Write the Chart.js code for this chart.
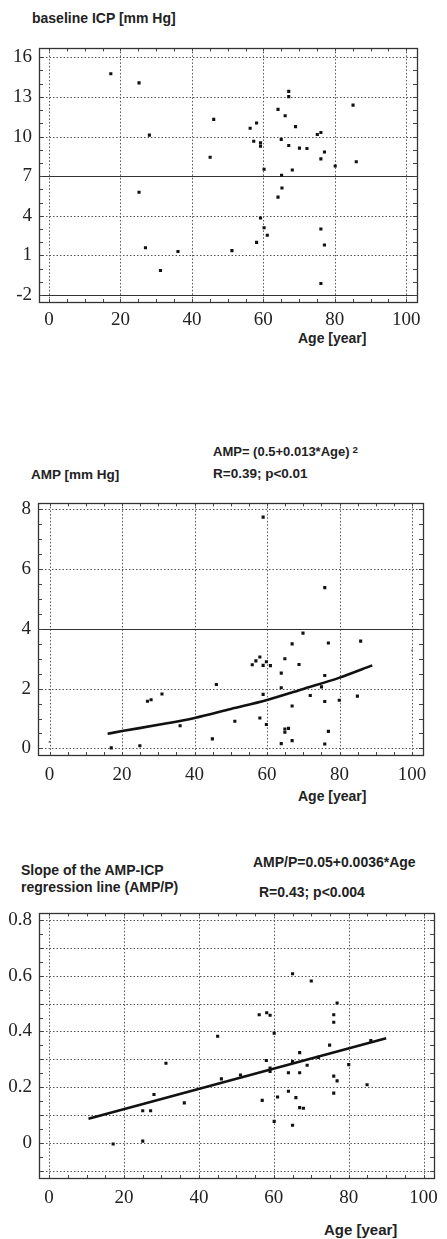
<!DOCTYPE html>
<html lang="en">
<head>
  <meta charset="UTF-8" />
  <title>ICP / AMP vs Age</title>
  <script src="https://cdn.jsdelivr.net/npm/chart.js"></script>
  <style>
    body {
      margin: 0;
      background: #fff;
      width: 447px;
      height: 1239px;
      position: relative;
      overflow: hidden;
    }
    canvas {
      position: absolute;
      left: 0;
    }
    .lbl {
      position: absolute;
      font-family: 'Liberation Sans', Arial, sans-serif;
      font-weight: bold;
      color: #222;
      line-height: 1;
      white-space: nowrap;
    }
    .lbl sup {
      font-size: 0.75em;
      position: relative;
      top: -0.35em;
      vertical-align: baseline;
      margin-left: 3px;
    }
  </style>
</head>
<body>
  <div class="lbl" style="left:32px; top:11px; font-size:14px;">baseline ICP [mm Hg]</div>
  <canvas id="icpChart" width="447" height="300" style="top:30px"></canvas>
  <div class="lbl" style="left:298px; top:331px; font-size:14px;">Age [year]</div>

  <div class="lbl" style="left:213px; top:445px; font-size:13px;">AMP= (0.5+0.013*Age)<sup>2</sup></div>
  <div class="lbl" style="left:31px; top:468px; font-size:13.5px;">AMP [mm Hg]</div>
  <div class="lbl" style="left:213px; top:467px; font-size:13.5px;">R=0.39; p&lt;0.01</div>
  <canvas id="ampChart" width="447" height="300" style="top:485px"></canvas>
  <div class="lbl" style="left:298px; top:789px; font-size:14px;">Age [year]</div>

  <div class="lbl" style="left:21px; top:863px; font-size:14px;">Slope of the AMP-ICP</div>
  <div class="lbl" style="left:21px; top:880px; font-size:14px;">regression line (AMP/P)</div>
  <div class="lbl" style="left:253px; top:855px; font-size:14px;">AMP/P=0.05+0.0036*Age</div>
  <div class="lbl" style="left:259px; top:885px; font-size:14px;">R=0.43; p&lt;0.004</div>
  <canvas id="slopeChart" width="447" height="318" style="top:895px"></canvas>
  <div class="lbl" style="left:324px; top:1222px; font-size:15px;">Age [year]</div>

  <script>
    // --- baseline ICP vs age
    const icpAge = [17.3, 25.2, 28.1, 46.1, 45.1, 25.2, 27.0, 31.2, 36.1, 51.2, 56.3, 57.3, 58.1, 59.2, 59.2,
      60.2, 64.1, 65.0, 66.1, 67.1, 67.1, 67.1, 69.0, 70.1, 72.2, 68.1, 65.1, 65.2, 64.1, 59.2,
      60.2, 61.1, 58.1, 75.1, 76.1, 77.1, 76.1, 80.1, 76.1, 77.1, 76.1, 85.1, 86.0];
    const icpValue = [14.75, 14.06, 10.11, 11.3, 8.43, 5.79, 1.59, -0.14, 1.30, 1.37, 10.63, 9.64, 11.02, 9.52, 9.27,
      7.52, 12.06, 9.79, 11.57, 13.42, 13.02, 9.32, 10.75, 9.12, 9.10, 7.47, 7.07, 6.11, 5.42, 3.84,
      3.10, 2.53, 1.99, 10.16, 10.31, 8.83, 8.31, 7.77, 3.0, 1.79, -1.12, 12.38, 8.09];
    const icpTicks = [-2, 1, 4, 7, 10, 13, 16];

    // --- AMP vs age
    const ampAge = [17.0, 24.9, 27.0, 28.0, 31.0, 36.0, 44.9, 46.0, 51.1, 55.9, 56.9, 58.0, 58.9, 58.9, 59.8,
      60.9, 58.9, 58.0, 59.8, 63.9, 63.9, 63.9, 64.9, 64.9, 64.9, 65.9, 66.9, 66.9, 66.9, 68.8,
      69.9, 71.9, 75.0, 75.9, 75.9, 75.9, 75.9, 76.9, 76.9, 79.9, 84.9, 85.8];
    const ampValue = [0.02, 0.09, 1.58, 1.63, 1.82, 0.76, 0.32, 2.14, 0.91, 2.80, 2.93, 3.06, 7.74, 2.78, 2.90,
      2.77, 1.81, 1.02, 0.80, 2.52, 2.03, 0.16, 3.0, 0.65, 0.54, 0.67, 3.50, 1.42, 0.26, 2.81,
      3.86, 1.77, 2.06, 5.38, 2.44, 1.57, 0.15, 3.53, 0.57, 1.61, 1.75, 3.59];
    const ampEdgeAge = [0, 100];
    const ampEdgeValue = [0.22, 3.28];
    const ampFitAge = [16, 20, 30, 40, 50, 60, 70, 80, 89];
    const ampFitValue = [0.49, 0.58, 0.79, 1.02, 1.32, 1.62, 1.99, 2.37, 2.78];
    const ampTicks = [0, 2, 4, 6, 8];

    // --- AMP/P slope vs age
    const slopeAge = [17.1, 25.0, 25.0, 27.1, 28.0, 31.2, 36.1, 45.0, 46.0, 51.1, 56.1, 56.9, 58.0, 58.1, 59.0,
      59.0, 59.0, 60.1, 60.1, 61.0, 63.9, 63.9, 65.0, 65.0, 65.0, 65.9, 66.9, 66.9, 66.9, 67.9,
      68.9, 70.0, 71.9, 74.9, 76.0, 76.0, 76.0, 76.0, 76.9, 76.9, 80.0, 84.9, 85.9];
    const slopeValue = [-0.003, 0.007, 0.116, 0.116, 0.174, 0.286, 0.144, 0.383, 0.230, 0.244, 0.460, 0.153, 0.296, 0.467, 0.458,
      0.269, 0.257, 0.394, 0.078, 0.165, 0.252, 0.186, 0.607, 0.292, 0.064, 0.163, 0.324, 0.252, 0.127, 0.125,
      0.279, 0.581, 0.307, 0.351, 0.460, 0.433, 0.240, 0.179, 0.502, 0.223, 0.281, 0.209, 0.367];
    const slopeFitAge = [10.5, 90];
    const slopeFitValue = [0.087, 0.376];
    const slopeTicks = [0, 0.2, 0.4, 0.6, 0.8];

    const xTicks = [0, 20, 40, 60, 80, 100];

    const pts = (xs, ys) => xs.map((x, i) => ({ x, y: ys[i] }));

    Chart.defaults.font.family = 'Liberation Serif';

    const frameGrid = {
      id: 'frameGrid',
      beforeDatasetsDraw(chart, args, opts) {
        const { ctx, chartArea: a, scales: { x, y } } = chart;
        ctx.save();
        ctx.lineWidth = 1;
        ctx.strokeStyle = '#555';
        ctx.setLineDash([1.5, 2]);
        ctx.beginPath();
        opts.dottedX.forEach(v => {
          const px = Math.round(x.getPixelForValue(v)) + 0.5;
          ctx.moveTo(px, a.top); ctx.lineTo(px, a.bottom);
        });
        opts.dottedY.forEach(v => {
          const py = Math.round(y.getPixelForValue(v)) + 0.5;
          ctx.moveTo(a.left, py); ctx.lineTo(a.right, py);
        });
        ctx.stroke();
        ctx.setLineDash([]);
        ctx.strokeStyle = '#333';
        ctx.beginPath();
        opts.solidY.forEach(v => {
          const py = Math.round(y.getPixelForValue(v)) + 0.5;
          ctx.moveTo(a.left, py); ctx.lineTo(a.right, py);
        });
        ctx.stroke();
        // minor ticks on the frame, pointing inward
        ctx.strokeStyle = '#444';
        ctx.beginPath();
        for (let v = opts.minorY[0]; v <= opts.minorY[1] + 1e-9; v += opts.minorY[2]) {
          const py = Math.round(y.getPixelForValue(v)) + 0.5;
          ctx.moveTo(a.left, py); ctx.lineTo(a.left + 4, py);
          ctx.moveTo(a.right, py); ctx.lineTo(a.right - 4, py);
        }
        for (let v = 0; v <= 100; v += 5) {
          const px = Math.round(x.getPixelForValue(v)) + 0.5;
          ctx.moveTo(px, a.bottom); ctx.lineTo(px, a.bottom - 3);
          ctx.moveTo(px, a.top); ctx.lineTo(px, a.top + 3);
        }
        ctx.stroke();
        ctx.restore();
      },
      afterDraw(chart) {
        const { ctx, chartArea: a } = chart;
        ctx.save();
        ctx.strokeStyle = '#333';
        ctx.lineWidth = 1.3;
        ctx.strokeRect(Math.round(a.left) + 0.5, Math.round(a.top) + 0.5,
          Math.round(a.right - a.left), Math.round(a.bottom - a.top));
        ctx.restore();
      }
    };

    const tickFont = { family: 'Liberation Serif', size: 19 };

    function makeChart(id, box, datasets, grid) {
      const canvas = document.getElementById(id);
      const top = parseFloat(canvas.style.top);
      const h = canvas.height;
      new Chart(canvas, {
        type: 'scatter',
        data: { datasets },
        options: {
          responsive: false,
          animation: false,
          layout: {
            padding: { left: 0, top: box.top - top, right: 447 - box.right, bottom: 0 }
          },
          plugins: {
            legend: { display: false },
            tooltip: { enabled: false },
            frameGrid: grid
          },
          scales: {
            x: {
              type: 'linear',
              min: box.xMin, max: box.xMax,
              afterBuildTicks: s => { s.ticks = xTicks.map(v => ({ value: v })); },
              afterFit: s => { s.height = top + h - box.bottom; },
              grid: { display: false, drawTicks: false },
              border: { display: false },
              ticks: { padding: box.xPad, color: '#222', font: tickFont }
            },
            y: {
              type: 'linear',
              min: box.yMin, max: box.yMax,
              afterBuildTicks: s => { s.ticks = box.yTicks.map(v => ({ value: v })); },
              afterFit: s => { s.width = box.left; },
              grid: { display: false, drawTicks: false },
              border: { display: false },
              ticks: { padding: 7, color: '#222', font: tickFont }
            }
          }
        },
        plugins: [frameGrid]
      });
    }

    const dotStyle = { pointStyle: 'rect', pointRadius: 2.2, backgroundColor: '#111', borderColor: '#111', borderWidth: 0, showLine: false };
    const fitStyle = { showLine: true, pointRadius: 0, borderColor: '#111', borderWidth: 2.6, fill: false };

    makeChart('icpChart',
      { left: 39, right: 417, top: 45, bottom: 302, xPad: 7, xMin: -2.8, xMax: 103, yMin: -2.52, yMax: 16.67, yTicks: icpTicks },
      [{ data: pts(icpAge, icpValue), ...dotStyle }],
      { dottedX: xTicks, dottedY: [1, 4, 10, 13, 16], solidY: [-2, 7], minorY: [-2, 16, 1] });

    makeChart('ampChart',
      { left: 38, right: 423, top: 494, bottom: 755, xPad: 9, xMin: -3.2, xMax: 103, yMin: -0.22, yMax: 8.2, yTicks: ampTicks },
      [
        { data: pts(ampFitAge, ampFitValue), ...fitStyle, cubicInterpolationMode: 'monotone' },
        { data: pts(ampAge, ampValue), ...dotStyle },
        { data: pts(ampEdgeAge, ampEdgeValue), ...dotStyle, pointRadius: 1.2, backgroundColor: '#666' }
      ],
      { dottedX: xTicks, dottedY: [0, 2, 6, 8], solidY: [4], minorY: [0, 8, 0.5] });

    makeChart('slopeChart',
      { left: 39, right: 442, top: 906, bottom: 1178, xPad: 9, xMin: -2.7, xMax: 102.8, yMin: -0.125, yMax: 0.823, yTicks: slopeTicks },
      [
        { data: pts(slopeFitAge, slopeFitValue), ...fitStyle },
        { data: pts(slopeAge, slopeValue), ...dotStyle }
      ],
      { dottedX: xTicks, dottedY: [-0.1, 0, 0.1, 0.2, 0.3, 0.4, 0.5, 0.6, 0.7, 0.8], solidY: [], minorY: [-0.1, 0.8, 0.05] });
  </script>
</body>
</html>
